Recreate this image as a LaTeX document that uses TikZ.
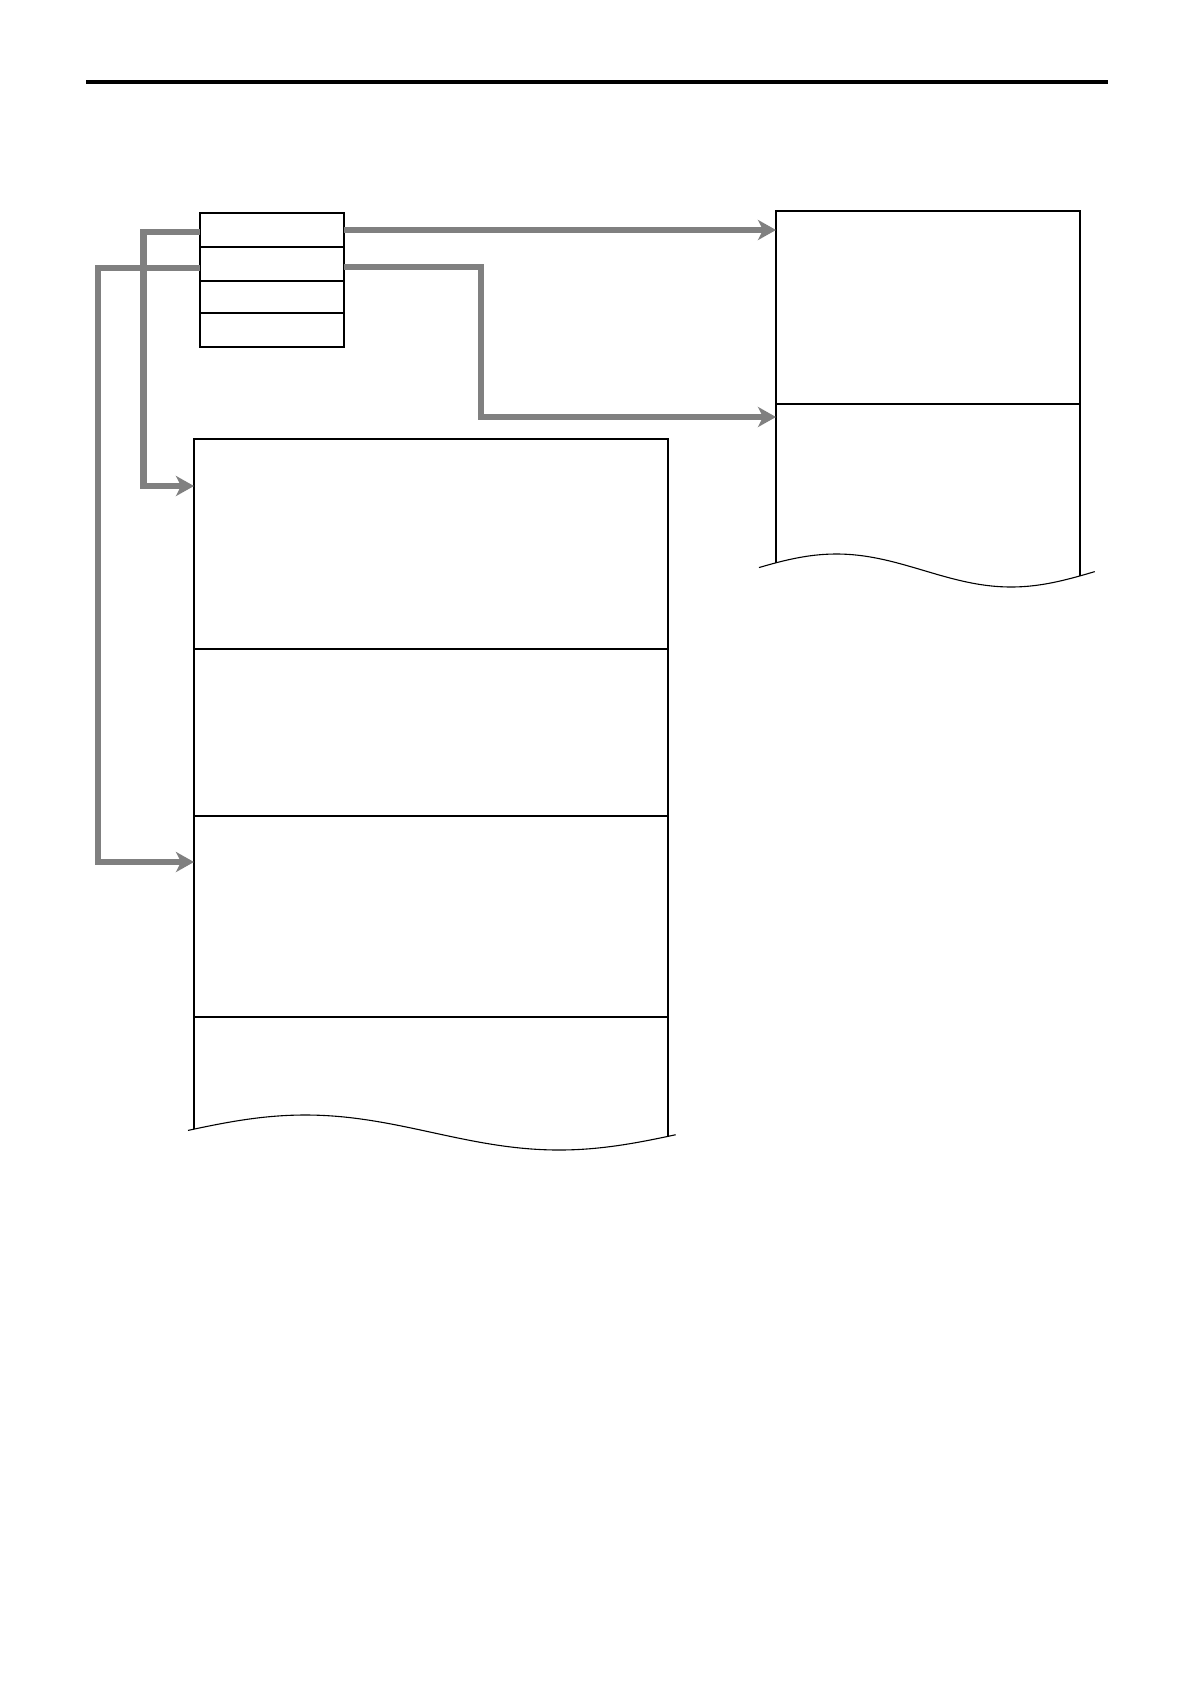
\documentclass[tikz,border=0pt]{standalone}
\usetikzlibrary{arrows.meta,calc}
\definecolor{conngrey}{HTML}{808080}
\tikzset{
  cell/.style={draw=black, line width=1.3pt, minimum width=#1, inner sep=0pt, outer sep=0pt, anchor=north west},
  opencell/.style={minimum width=#1, inner sep=0pt, outer sep=0pt, anchor=north west},
  edge/.style={draw=black, line width=1.3pt},
  wave/.style={draw=black, line width=1.1pt},
  conn/.style={draw=conngrey, line width=6.2pt, line join=miter,
    -{Stealth[length=18pt,width=20pt,inset=5pt]}}
}
\begin{document}
\begin{tikzpicture}[x=1pt,y=-1pt]
\useasboundingbox[fill=white] (0,0) rectangle (1190,1684);
% top rule
\coordinate (ruleL) at (86,82);
\coordinate (ruleR) at (1108,82);
\draw[line width=4pt] (ruleL) -- (ruleR);
% small box rows
\node[cell=144pt, minimum height=34pt] (r1) at (200,213) {};
\node[cell=144pt, minimum height=34pt] (r2) at (200,247) {};
\node[cell=144pt, minimum height=32pt] (r3) at (200,281) {};
\node[cell=144pt, minimum height=34pt] (r4) at (200,313) {};
% right box
\node[cell=304pt, minimum height=193pt] (rt) at (776,211) {};
\node[opencell=304pt, minimum height=160pt] (rb) at (776,404) {};
\draw[edge] (rb.north west) -- (776,563);
\draw[edge] (rb.north east) -- (1080,576);
\draw[wave] plot[domain=0:1, samples=80, smooth]
  ({759+336*\x}, {570.5-16.5*sin((0.18+6.04*\x) r)});
% big box
\node[cell=474pt, minimum height=210pt] (b1) at (194,439) {};
\node[cell=474pt, minimum height=167pt] (b2) at (194,649) {};
\node[cell=474pt, minimum height=201pt] (b3) at (194,816) {};
\node[opencell=474pt, minimum height=114pt] (b4) at (194,1017) {};
\draw[edge] (b4.north west) -- (194,1129);
\draw[edge] (b4.north east) -- (668,1136);
\draw[wave] plot[domain=0:1, samples=80, smooth]
  ({188+488*\x}, {1132.5-17.5*sin((0.12+6.04*\x) r)});
% connectors
\coordinate (k1) at (143.5,232);
\coordinate (k2) at (98,268);
\coordinate (k4) at (481,267);
\draw[conn] (r1.west |- k1) -- (k1) |- (b1.west |- 0,486);
\draw[conn] (r2.west |- k2) -- (k2) |- (b3.west |- 0,862);
\draw[conn] (r1.east |- 0,230) -- (rt.west |- 0,230);
\draw[conn] (r2.east |- k4) -- (k4) |- (rb.west |- 0,417);
\end{tikzpicture}
\end{document}
